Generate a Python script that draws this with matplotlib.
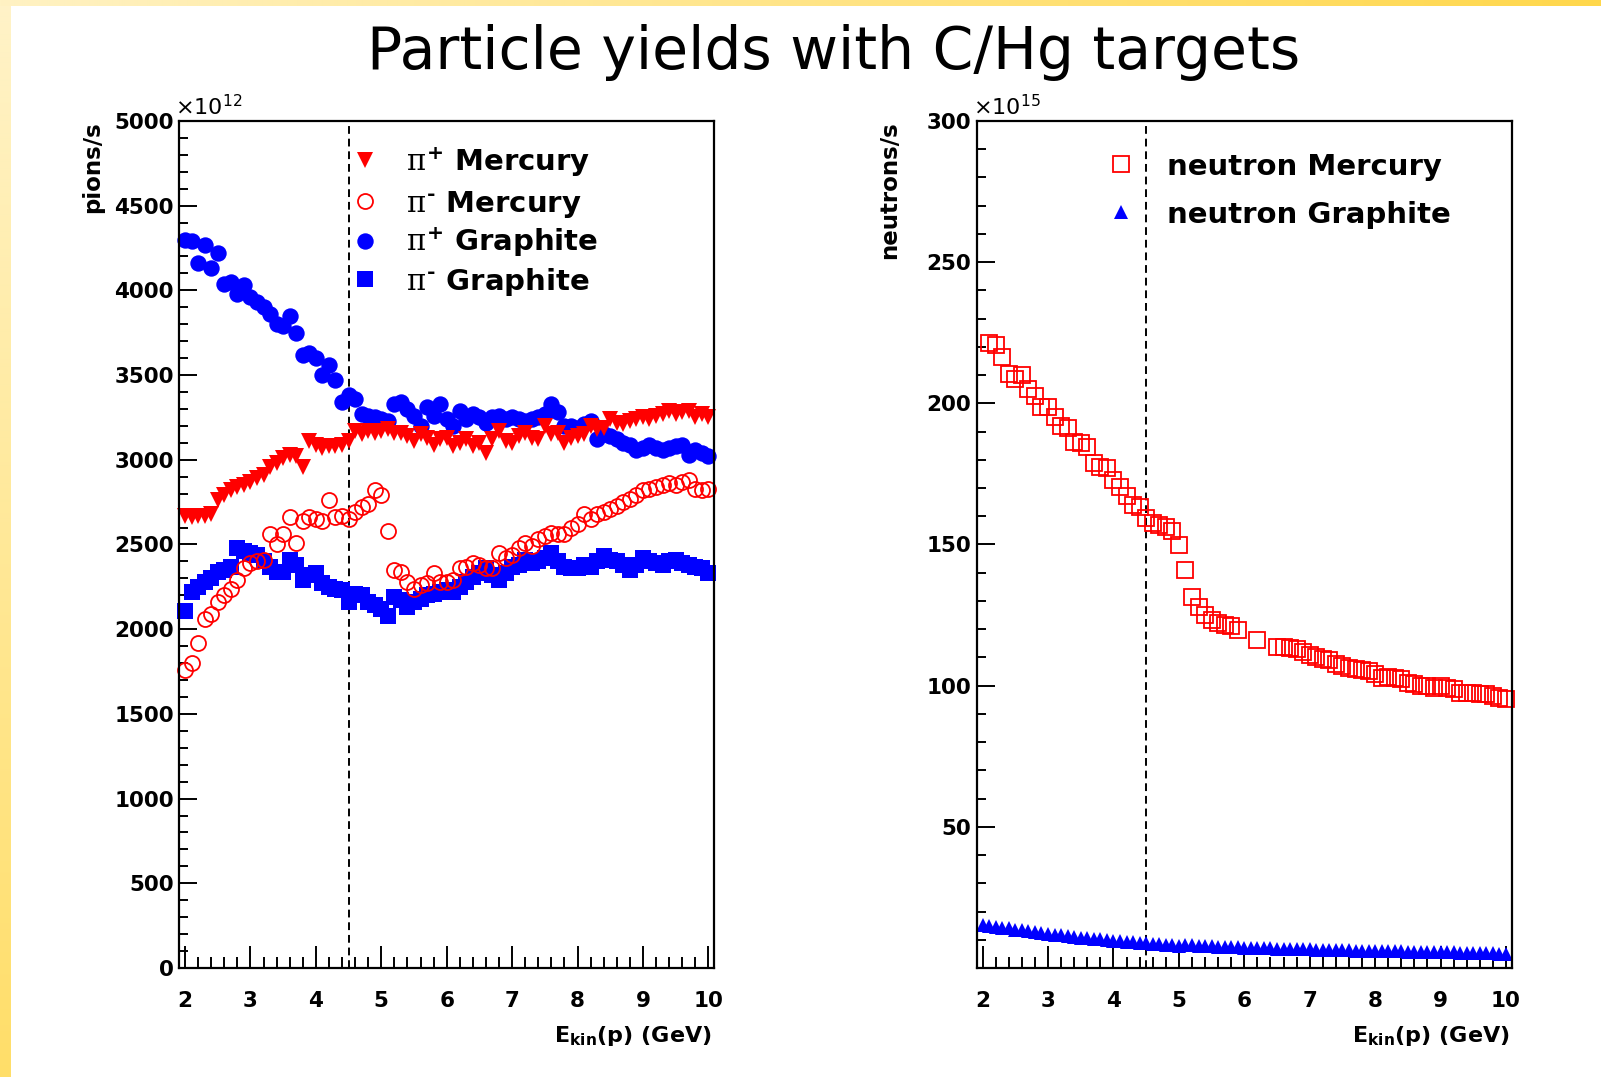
import numpy as np
import matplotlib
matplotlib.use("Agg")
import matplotlib.pyplot as plt
from matplotlib.ticker import MultipleLocator, FixedLocator

# proton kinetic energy scan points (GeV)
energy = [2.0, 2.1, 2.2, 2.3, 2.4, 2.5, 2.6, 2.7, 2.8, 2.9,
          3.0, 3.1, 3.2, 3.3, 3.4, 3.5, 3.6, 3.7, 3.8, 3.9,
          4.0, 4.1, 4.2, 4.3, 4.4, 4.5, 4.6, 4.7, 4.8, 4.9,
          5.0, 5.1, 5.2, 5.3, 5.4, 5.5, 5.6, 5.7, 5.8, 5.9,
          6.0, 6.1, 6.2, 6.3, 6.4, 6.5, 6.6, 6.7, 6.8, 6.9,
          7.0, 7.1, 7.2, 7.3, 7.4, 7.5, 7.6, 7.7, 7.8, 7.9,
          8.0, 8.1, 8.2, 8.3, 8.4, 8.5, 8.6, 8.7, 8.8, 8.9,
          9.0, 9.1, 9.2, 9.3, 9.4, 9.5, 9.6, 9.7, 9.8, 9.9, 10.0]

# pion yields, units of 1e12 pions/s
pip_mercury = [2670, 2660, 2670, 2670, 2680, 2760, 2790, 2820, 2840, 2850,
               2870, 2890, 2910, 2960, 2980, 3010, 3030, 3020, 2960, 3110,
               3090, 3070, 3080, 3080, 3090, 3110, 3170, 3150, 3170, 3160,
               3170, 3180, 3160, 3160, 3140, 3110, 3150, 3130, 3090, 3120,
               3130, 3080, 3100, 3120, 3080, 3100, 3040, 3120, 3170, 3110,
               3100, 3140, 3160, 3130, 3120, 3200, 3150, 3160, 3100, 3130,
               3140, 3150, 3200, 3180, 3190, 3240, 3220, 3210, 3230, 3240,
               3250, 3240, 3260, 3270, 3290, 3270, 3280, 3290, 3250, 3270, 3250]
pim_mercury = [1760, 1800, 1920, 2060, 2090, 2160, 2200, 2240, 2290, 2360,
               2390, 2400, 2410, 2560, 2500, 2560, 2660, 2510, 2640, 2660,
               2650, 2640, 2760, 2660, 2670, 2650, 2690, 2720, 2740, 2820,
               2790, 2580, 2350, 2340, 2280, 2240, 2260, 2270, 2330, 2280,
               2280, 2290, 2360, 2370, 2390, 2380, 2360, 2360, 2450, 2420,
               2440, 2480, 2510, 2490, 2530, 2550, 2570, 2560, 2560, 2600,
               2620, 2680, 2650, 2680, 2690, 2710, 2730, 2750, 2770, 2790,
               2820, 2830, 2840, 2850, 2860, 2850, 2870, 2880, 2830, 2820, 2830]
pip_graphite = [4300, 4290, 4160, 4270, 4130, 4220, 4040, 4050, 3980, 4030,
                3960, 3930, 3900, 3860, 3800, 3790, 3850, 3750, 3620, 3630,
                3600, 3500, 3560, 3470, 3340, 3380, 3360, 3270, 3260, 3250,
                3240, 3230, 3330, 3340, 3300, 3260, 3200, 3310, 3260, 3330,
                3240, 3200, 3290, 3240, 3270, 3250, 3220, 3250, 3260, 3240,
                3250, 3240, 3230, 3240, 3250, 3270, 3330, 3280, 3200, 3200,
                3190, 3210, 3230, 3120, 3150, 3140, 3120, 3100, 3090, 3060,
                3070, 3090, 3070, 3060, 3070, 3080, 3090, 3030, 3060, 3040, 3020]
pim_graphite = [2110, 2220, 2250, 2280, 2300, 2340, 2350, 2370, 2480, 2460,
                2450, 2440, 2400, 2370, 2340, 2340, 2410, 2380, 2290, 2320,
                2330, 2270, 2250, 2240, 2230, 2160, 2210, 2200, 2160, 2140,
                2120, 2080, 2190, 2170, 2130, 2160, 2180, 2200, 2210, 2220,
                2230, 2220, 2250, 2280, 2310, 2330, 2360, 2320, 2290, 2330,
                2370, 2380, 2410, 2390, 2400, 2420, 2450, 2400, 2370, 2360,
                2360, 2380, 2370, 2400, 2430, 2410, 2400, 2380, 2350, 2380,
                2420, 2400, 2390, 2380, 2400, 2410, 2390, 2380, 2370, 2360, 2330]

# neutron yields, units of 1e15 neutrons/s (mercury run has a few missing points)
n_mercury_energy = [2.1, 2.2, 2.3, 2.4, 2.5, 2.6, 2.7, 2.8, 2.9, 3.0,
                    3.1, 3.2, 3.3, 3.4, 3.5, 3.6, 3.7, 3.8, 3.9, 4.0,
                    4.1, 4.2, 4.3, 4.4, 4.5, 4.6, 4.7, 4.8, 4.9, 5.0,
                    5.1, 5.2, 5.3, 5.4, 5.5, 5.6, 5.7, 5.8, 5.9, 6.2,
                    6.5, 6.6, 6.7, 6.8, 6.9, 7.0, 7.1, 7.2, 7.3, 7.4,
                    7.5, 7.6, 7.7, 7.8, 7.9, 8.0, 8.1, 8.2, 8.3, 8.4,
                    8.5, 8.6, 8.7, 8.8, 8.9, 9.0, 9.1, 9.2, 9.3, 9.4,
                    9.5, 9.6, 9.7, 9.8, 9.9, 10.0]
n_mercury = [221.5, 220.5, 216.5, 210.5, 208.5, 210.0, 205.0, 202.5, 198.8, 198.8,
             195.3, 191.8, 191.2, 186.4, 185.8, 184.6, 178.8, 177.6, 177.0, 172.9,
             170.5, 167.0, 164.0, 163.4, 159.3, 157.5, 156.9, 156.3, 154.6, 149.8,
             141.0, 131.5, 128.0, 125.0, 123.3, 122.1, 121.6, 121.0, 119.7, 116.2,
             113.8, 113.6, 113.2, 113.0, 112.0, 111.0, 110.0, 109.5, 109.0, 107.6,
             107.0, 106.4, 105.8, 105.5, 105.2, 104.0, 102.8, 103.0, 102.8, 102.2,
             101.0, 100.5, 99.9, 99.9, 99.3, 99.9, 99.0, 98.7, 97.5, 97.5,
             97.5, 97.2, 96.9, 96.3, 95.8, 95.2]
n_graphite = [15.3, 15.0, 14.6, 14.3, 14.0, 13.6, 13.3, 13.0, 12.7, 12.4,
              12.1, 11.8, 11.6, 11.3, 11.1, 10.8, 10.6, 10.4, 10.1, 9.9,
              9.7, 9.5, 9.3, 9.1, 8.9, 8.7, 8.5, 8.4, 8.2, 8.1,
              7.9, 8.1, 8.0, 7.9, 7.8, 7.7, 7.6, 7.5, 7.4, 7.3,
              7.2, 7.2, 7.1, 7.0, 7.0, 6.9, 6.8, 6.8, 6.7, 6.6,
              6.6, 6.5, 6.5, 6.4, 6.4, 6.3, 6.3, 6.2, 6.2, 6.1,
              6.1, 6.0, 6.0, 5.9, 5.9, 5.8, 5.8, 5.7, 5.7, 5.6,
              5.6, 5.5, 5.5, 5.4, 5.4, 5.3, 5.3, 5.2, 5.2, 5.1, 5.1]

threshold = 4.5  # GeV, dashed reference line

plt.rcParams['font.family'] = 'DejaVu Sans'
plt.rcParams['font.weight'] = 'bold'
plt.rcParams['axes.labelweight'] = 'bold'
plt.rcParams['mathtext.fontset'] = 'custom'
plt.rcParams['mathtext.rm'] = 'DejaVu Sans:weight=bold'
plt.rcParams['mathtext.bf'] = 'DejaVu Sans:weight=bold'
plt.rcParams['mathtext.it'] = 'DejaVu Serif:weight=normal'   # upright serif pi
plt.rcParams['mathtext.sf'] = 'DejaVu Sans:weight=normal'

# marker styles, shared by data and legend rows
sty_pip_hg = dict(marker='v', ms=11.6, color='#ff0000', mew=0)
sty_pim_hg = dict(marker='o', ms=10.8, mfc='none', mec='#ff0000', mew=1.3)
sty_pip_c = dict(marker='o', ms=11.8, color='#0000ff', mew=0)
sty_pim_c = dict(marker='s', ms=11.2, color='#0000ff', mew=0)
sty_n_hg = dict(marker='s', ms=11.2, mfc='none', mec='#ff0000', mew=1.3)
sty_n_c = dict(marker='^', ms=9.4, color='#0000ff', mew=0)

W, H = 1601, 1077
fig = plt.figure(figsize=(W / 100, H / 100), dpi=100)

# slide background: white with a yellow band on the left and top edges
bg = fig.add_axes([0, 0, 1, 1], zorder=-10)
bg.axis('off')
img = np.ones((H, W, 3))
t = np.linspace(0, 1, H)[:, None]
img[:, :11] = ((1 - t) * np.array([255, 243, 200]) + t * np.array([255, 222, 105]))[:, None, :] / 255
s = np.linspace(0, 1, W)[:, None]
img[:6, :] = ((1 - s) * np.array([255, 242, 195]) + s * np.array([255, 215, 75]))[None, :, :] / 255
bg.imshow(img, aspect='auto', extent=(0, 1, 0, 1), interpolation='nearest')
bg.set_xlim(0, 1)
bg.set_ylim(0, 1)

fig.text(0.521, 0.9356, 'Particle yields with C/Hg targets', ha='center', va='baseline',
         fontsize=42, fontweight='normal')

ax1 = fig.add_axes([0.1120, 0.1012, 0.3340, 0.7865])
ax2 = fig.add_axes([0.6102, 0.1012, 0.3340, 0.7865])


def style_axes(ax, ymax, ymajor, yminor, ylabel, exponent):
    ax.set_xlim(1.913, 10.087)
    ax.set_ylim(0, ymax)
    ax.xaxis.set_major_locator(MultipleLocator(1))
    ax.xaxis.set_minor_locator(MultipleLocator(0.2))
    ax.yaxis.set_major_locator(ymajor)
    ax.yaxis.set_minor_locator(MultipleLocator(yminor))
    ax.tick_params(which='both', direction='in', top=False, right=False,
                   width=1.4, labelsize=15.5)
    ax.tick_params(axis='x', which='major', length=16, pad=16.5)
    ax.tick_params(axis='x', which='minor', length=8)
    ax.tick_params(axis='y', which='major', length=13, pad=4)
    ax.tick_params(axis='y', which='minor', length=6.5)
    for sp in ax.spines.values():
        sp.set_linewidth(1.6)

    ax.set_xlabel(r'E$_{\mathrm{kin}}$(p) (GeV)', fontsize=16, fontweight='bold')
    ax.xaxis.label.set_ha('right')
    ax.xaxis.set_label_coords(0.996, -0.066)
    ax.set_ylabel(ylabel, fontsize=16.5, fontweight='bold')
    ax.yaxis.label.set_rotation_mode('default')
    ax.yaxis.label.set_ha('center')
    ax.yaxis.label.set_va('top')
    ax.yaxis.set_label_coords(-0.163, 1.0)

    ax.text(-0.0075, 1.007, r'$\mathsf{\times10^{%d}}$' % exponent, transform=ax.transAxes,
            ha='left', va='baseline', fontsize=16)
    ax.axvline(threshold, color='black', lw=1.4, ls=(0, (4, 2.5)), zorder=1)


def legend_row(ax, xm, xt, ym, yt, label, style):
    ax.plot([xm], [ym], transform=ax.transAxes, ls='none', clip_on=False, **style)
    ax.text(xt, yt, label, transform=ax.transAxes, ha='left', va='baseline', fontsize=21)


# pions
style_axes(ax1, 5000, MultipleLocator(500), 100, 'pions/s', 12)
ax1.plot(energy, pip_graphite, ls='none', clip_on=False, **sty_pip_c)
ax1.plot(energy, pim_graphite, ls='none', clip_on=False, **sty_pim_c)
ax1.plot(energy, pip_mercury, ls='none', clip_on=False, **sty_pip_hg)
ax1.plot(energy, pim_mercury, ls='none', clip_on=False, **sty_pim_hg)

legend_row(ax1, 0.348, 0.424, 0.9536, 0.941, r'$\pi^{+}$ Mercury', sty_pip_hg)
legend_row(ax1, 0.348, 0.424, 0.9054, 0.893, r'$\pi^{\text{-}}$ Mercury', sty_pim_hg)
legend_row(ax1, 0.348, 0.424, 0.8584, 0.846, r'$\pi^{+}$ Graphite', sty_pip_c)
legend_row(ax1, 0.348, 0.424, 0.8138, 0.801, r'$\pi^{\text{-}}$ Graphite', sty_pim_c)

# neutrons
style_axes(ax2, 300, FixedLocator([50, 100, 150, 200, 250, 300]), 10, 'neutrons/s', 15)
ax2.plot(n_mercury_energy, n_mercury, ls='none', clip_on=False, **sty_n_hg)
ax2.plot(energy, n_graphite, ls='none', clip_on=False, **sty_n_c)

legend_row(ax2, 0.269, 0.355, 0.949, 0.936, 'neutron Mercury', sty_n_hg)
legend_row(ax2, 0.269, 0.355, 0.892, 0.880, 'neutron Graphite', sty_n_c)

fig.savefig('out.png', dpi=100)
